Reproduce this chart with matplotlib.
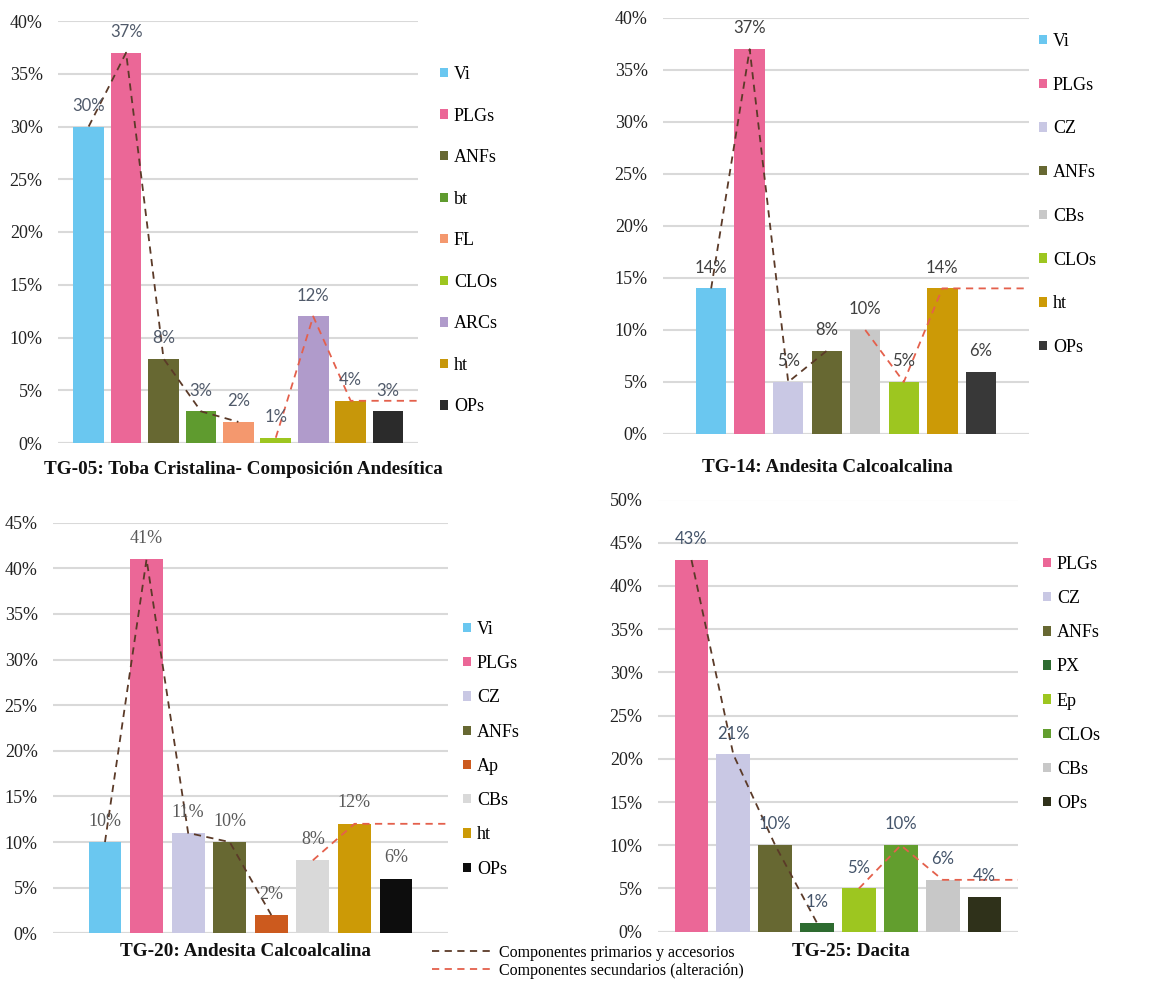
import math
import matplotlib
matplotlib.use("Agg")
import matplotlib.pyplot as plt
from matplotlib.patches import Patch
from matplotlib.lines import Line2D

# ---- data -------------------------------------------------------------
tg05_labels = ["Vi", "PLGs", "ANFs", "bt", "FL", "CLOs", "ARCs", "ht", "OPs"]
tg05_values = [30, 37, 8, 3, 2, 0.5, 12, 4, 3]
tg05_colors = ["#6AC7F0", "#EB6797", "#676832", "#5F9B2F", "#F4986E",
               "#9DC620", "#B09BCB", "#C7970A", "#2B2B2B"]
tg05_primary = [0, 1, 2, 3, 4]
tg05_secondary = [5, 6, 7]

tg14_labels = ["Vi", "PLGs", "CZ", "ANFs", "CBs", "CLOs", "ht", "OPs"]
tg14_values = [14, 37, 5, 8, 10, 5, 14, 6]
tg14_colors = ["#6AC7F0", "#EB6797", "#C9C8E4", "#676832", "#C8C8C8",
               "#9DC620", "#CC9A06", "#383838"]
tg14_primary = [0, 1, 2, 3]
tg14_secondary = [4, 5, 6]

tg20_labels = ["Vi", "PLGs", "CZ", "ANFs", "Ap", "CBs", "ht", "OPs"]
tg20_values = [10, 41, 11, 10, 2, 8, 12, 6]
tg20_colors = ["#6AC7F0", "#EB6797", "#C9C8E4", "#676832", "#CC5A1E",
               "#D9D9D9", "#CC9A06", "#0D0D0D"]
tg20_primary = [0, 1, 2, 3, 4]
tg20_secondary = [5, 6]

tg25_labels = ["PLGs", "CZ", "ANFs", "PX", "Ep", "CLOs", "CBs", "OPs"]
tg25_values = [43, 20.5, 10, 1, 5, 10, 6, 4]
tg25_colors = ["#EB6797", "#C9C8E4", "#676832", "#2E6B30", "#9DC620",
               "#629E2E", "#C8C8C8", "#2F311A"]
tg25_primary = [0, 1, 2, 3]
tg25_secondary = [4, 5, 6]

line_labels = ["Componentes primarios y accesorios",
               "Componentes secundarios (alteración)"]

PRIMARY_COLOR = "#5B3A28"
SECONDARY_COLOR = "#E4604C"
GRID_COLOR = "#D9D9D9"
SERIF = "Liberation Serif"
DASH = (0, (4, 3))

plt.rcParams["font.family"] = [SERIF, "DejaVu Serif"]

W, H = 1164, 985
fig = plt.figure(figsize=(W / 100, H / 100), dpi=100)


def px_axes(x0, x1, y_top, y_bot):
    return fig.add_axes([x0 / W, 1 - y_bot / H, (x1 - x0) / W, (y_bot - y_top) / H])


def half_up(v):
    return int(math.floor(v + 0.5))


def panel(ax, labels, values, colors, primary, secondary, ymax, xlim, width,
          title, title_xy, lab_color, lab_font, legend_xy, legend_spacing):
    x = list(range(len(values)))
    ax.bar(x, values, width=width, color=colors, zorder=2)
    ax.set_xlim(*xlim)
    ax.set_ylim(0, ymax)
    ax.set_yticks(range(0, ymax + 1, 5))
    ax.set_yticklabels([f"{t}%" for t in range(0, ymax + 1, 5)],
                       family=SERIF, fontsize=13, color="#222222")
    ax.set_xticks([])
    ax.tick_params(axis="y", length=0, pad=11)
    ax.grid(axis="y", color=GRID_COLOR, linewidth=1.5, zorder=0)
    for s in ax.spines.values():
        s.set_visible(False)
    ax.axhline(0, color=GRID_COLOR, linewidth=1.5, zorder=1)

    for xi, v in zip(x, values):
        ax.annotate(f"{half_up(v)}%", (xi, v), xytext=(0, 15),
                    textcoords="offset points", ha="center", va="center",
                    fontsize=12 if lab_font != SERIF else 13,
                    family=lab_font, color=lab_color, zorder=4)

    # primary and secondary trend lines across bar tops
    ax.plot([x[i] for i in primary], [values[i] for i in primary],
            color=PRIMARY_COLOR, linestyle=DASH, linewidth=1.3, zorder=3)
    sx = [x[i] for i in secondary] + [xlim[1]]
    sy = [values[i] for i in secondary] + [values[secondary[-1]]]
    ax.plot(sx, sy, color=SECONDARY_COLOR, linestyle=DASH,
            linewidth=1.3, zorder=3, clip_on=False)

    handles = [Patch(facecolor=c, edgecolor="none") for c in colors]
    ax.legend(handles, labels, loc="upper left",
              bbox_to_anchor=(legend_xy[0] / W, 1 - legend_xy[1] / H),
              bbox_transform=fig.transFigure, frameon=False,
              prop={"family": SERIF, "size": 13}, handlelength=0.42,
              handleheight=0.42, handletextpad=0.35, borderpad=0,
              borderaxespad=0, labelspacing=legend_spacing)

    fig.text(title_xy[0] / W, 1 - title_xy[1] / H, title,
             ha="center", va="center", family=SERIF, fontweight="bold",
             fontsize=13.8, color="#111111")


ax1 = px_axes(58, 418, 21, 443)
panel(ax1, tg05_labels, tg05_values, tg05_colors, tg05_primary, tg05_secondary,
      40, (-0.82, 8.8), 0.82,
      "TG-05: Toba Cristalina- Composición Andesítica", (243, 469),
      "#505A6A", "Lato", (440, 66), 1.36)

ax2 = px_axes(663, 1029, 18, 434)
panel(ax2, tg14_labels, tg14_values, tg14_colors, tg14_primary, tg14_secondary,
      40, (-1.25, 8.25), 0.79,
      "TG-14: Andesita Calcoalcalina", (827, 467),
      "#404040", "Lato", (1039, 33), 1.48)

ax3 = px_axes(53, 448, 522.7, 933.3)
panel(ax3, tg20_labels, tg20_values, tg20_colors, tg20_primary, tg20_secondary,
      45, (-1.25, 8.25), 0.79,
      "TG-20: Andesita Calcoalcalina", (245.5, 951),
      "#595959", SERIF, (463, 621), 0.955)

ax4 = px_axes(658, 1018, 499.5, 931.7)
panel(ax4, tg25_labels, tg25_values, tg25_colors, tg25_primary, tg25_secondary,
      50, (-0.8, 7.8), 0.81,
      "TG-25: Dacita", (851, 951),
      "#44546A", "Lato", (1043, 556), 0.95)

# shared legend for the two dashed lines
line_handles = [Line2D([0], [0], color=PRIMARY_COLOR, linestyle=DASH, linewidth=1.3),
                Line2D([0], [0], color=SECONDARY_COLOR, linestyle=DASH, linewidth=1.3)]
fig.legend(line_handles, line_labels, loc="upper left",
           bbox_to_anchor=(432 / W, 1 - 945 / H), frameon=False,
           prop={"family": SERIF, "size": 11.5}, handlelength=3.6,
           handletextpad=0.6, borderpad=0, borderaxespad=0, labelspacing=0.1)

fig.savefig("out.png", dpi=100)
